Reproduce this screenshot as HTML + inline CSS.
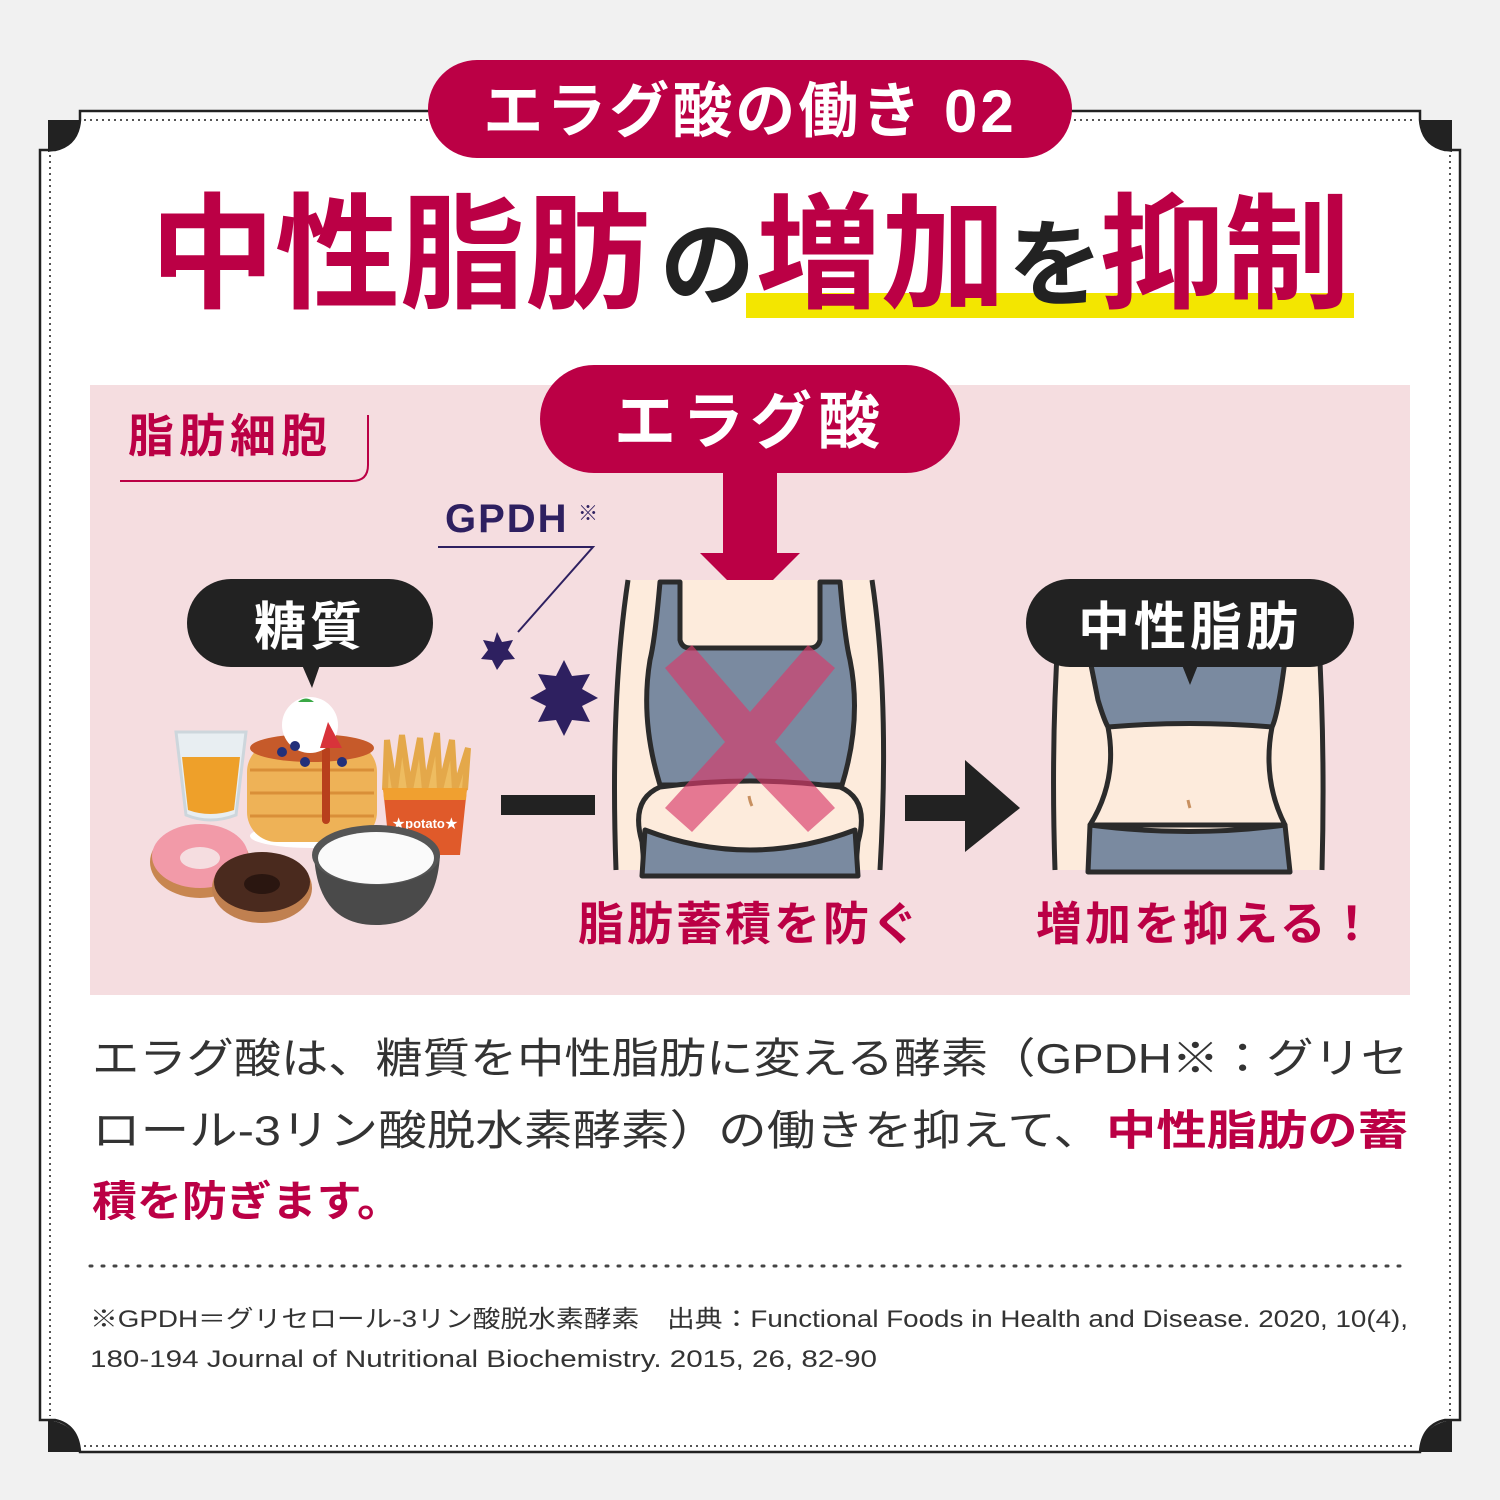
<!DOCTYPE html>
<html><head><meta charset="utf-8"><style>
html,body{margin:0;padding:0;background:#f2f2f2;}
svg{display:block}
text{font-family:"Liberation Sans","Noto Sans CJK JP",sans-serif;}
</style></head><body>
<svg width="1500" height="1500" viewBox="0 0 1500 1500" xmlns="http://www.w3.org/2000/svg">
<rect width="1500" height="1500" fill="#f1f1f1"/>
<!-- frame -->
<path d="M80,111 H1420 V120 Q1422,145 1445,150 H1460 V1420 H1445 Q1422,1425 1420,1452 H80 Q78,1425 55,1420 H40 V150 H55 Q78,145 80,120 Z" fill="#fff" stroke="#222" stroke-width="2.5"/>
<path d="M48,120 H80 Q78,148 48,152 Z" fill="#222"/>
<path d="M1452,120 H1420 Q1422,148 1452,152 Z" fill="#222"/>
<path d="M48,1452 H80 Q78,1424 48,1420 Z" fill="#222"/>
<path d="M1452,1452 H1420 Q1422,1424 1452,1420 Z" fill="#222"/>
<path d="M84,120 H1416 M50,155 V1416 M1450,155 V1416 M84,1446 H1416" stroke="#555" stroke-width="2" stroke-dasharray="2,4" fill="none"/>
<!-- header pill -->
<rect x="428" y="60" width="644" height="98" rx="49" fill="#bb0045"/>
<text x="750" y="132" font-size="60" font-weight="bold" fill="#fff" text-anchor="middle" letter-spacing="3">エラグ酸の働き 02</text>
<!-- title -->
<rect x="746" y="293" width="608" height="25" fill="#f3e600"/>
<text y="298" font-weight="bold" fill="#bb0045">
<tspan x="150" font-size="125" textLength="500" lengthAdjust="spacingAndGlyphs">中性脂肪</tspan><tspan x="660" font-size="95" fill="#222">の</tspan><tspan x="756" font-size="125">増加</tspan><tspan x="1008" font-size="95" fill="#222">を</tspan><tspan x="1100" font-size="125">抑制</tspan>
</text>
<!-- pink panel -->
<rect x="90" y="385" width="1320" height="610" fill="#f5dde0"/>
<text x="128" y="452" font-size="46" font-weight="bold" fill="#bb0045" letter-spacing="5">脂肪細胞</text>
<path d="M120,481 H352 Q368,481 368,465 V415" stroke="#bb0045" stroke-width="2" fill="none"/>
<!-- ellagic pill + arrow -->
<rect x="540" y="365" width="420" height="108" rx="54" fill="#bb0045"/>
<text x="750" y="443" font-size="62" font-weight="bold" fill="#fff" text-anchor="middle" letter-spacing="6">エラグ酸</text>
<rect x="723" y="470" width="54" height="85" fill="#bb0045"/>
<path d="M700,553 H800 L750,603 Z" fill="#bb0045"/>
<!-- GPDH -->
<text x="445" y="532" font-size="40" font-weight="bold" fill="#2e2060" letter-spacing="2">GPDH</text>
<text x="578" y="520" font-size="20" fill="#2e2060">※</text>
<path d="M438,547 H593 L518,632" stroke="#2e2060" stroke-width="2" fill="none"/>
<polygon points="497,632 502,642 513,640 508,650 515,659 504,660 497,670 492,660 481,659 488,650 483,640 494,642" fill="#2e2060"/>
<polygon points="564,660 572,676 590,674 582,689 598,698 582,706 590,722 572,720 564,736 556,720 538,722 546,706 530,698 546,689 538,674 556,676" fill="#2e2060"/>
<!-- sugar bubble -->
<rect x="187" y="579" width="246" height="88" rx="44" fill="#222"/>
<path d="M302,665 L312,688 L320,665 Z" fill="#222"/>
<text x="310" y="645" font-size="52" font-weight="bold" fill="#fff" text-anchor="middle" letter-spacing="4">糖質</text>
<!-- food -->
<path d="M176,732 L186,815 Q210,825 236,815 L246,732 Z" fill="#e8eef2" stroke="#cdd6dc" stroke-width="3"/>
<path d="M182,757 L188,810 Q210,818 234,810 L240,757 Z" fill="#eea02a"/>
<ellipse cx="312" cy="836" rx="62" ry="12" fill="#fff"/>
<rect x="247" y="742" width="130" height="100" rx="30" fill="#eeb257"/>
<path d="M250,770 H374 M250,793 H374 M250,816 H374" stroke="#d98f38" stroke-width="3"/>
<ellipse cx="312" cy="748" rx="62" ry="14" fill="#c65a2a"/>
<path d="M326,750 V820" stroke="#b8401c" stroke-width="8" stroke-linecap="round"/>
<circle cx="310" cy="725" r="28" fill="#fff"/>
<path d="M298,702 Q306,695 314,702 Z" fill="#3aa845"/>
<path d="M320,748 L328,722 L342,748 Z" fill="#d8333a"/>
<circle cx="282" cy="752" r="5" fill="#22307a"/><circle cx="295" cy="746" r="5" fill="#22307a"/><circle cx="342" cy="762" r="5" fill="#22307a"/><circle cx="305" cy="762" r="5" fill="#22307a"/>
<path d="M385,790 L387,740 L395,790 M395,790 L402,735 L410,790 M410,790 L420,738 L425,790 M425,790 L437,733 L440,790 M440,790 L452,740 L455,790 M455,790 L468,748 L465,790" fill="#eebc60" stroke="#e4a84a" stroke-width="6"/>
<path d="M383,788 H467 L460,855 H390 Z" fill="#e05a2a"/>
<path d="M383,788 H467 L466,800 H384 Z" fill="#f0a030"/>
<text x="425" y="828" font-size="13" fill="#fff" text-anchor="middle" font-weight="bold">★potato★</text>
<ellipse cx="200" cy="862" rx="50" ry="36" fill="#c88650"/>
<ellipse cx="200" cy="856" rx="48" ry="32" fill="#f29aa8"/>
<ellipse cx="200" cy="858" rx="20" ry="11" fill="#f5dde0"/>
<ellipse cx="262" cy="888" rx="50" ry="35" fill="#c08050"/>
<ellipse cx="262" cy="882" rx="48" ry="30" fill="#4a2a1e"/>
<ellipse cx="262" cy="884" rx="18" ry="10" fill="#2a1610"/>
<path d="M314,855 Q318,925 376,925 Q436,925 440,855 Z" fill="#4a4a4a"/>
<ellipse cx="376" cy="855" rx="64" ry="30" fill="#555"/>
<ellipse cx="376" cy="858" rx="58" ry="26" fill="#fafafa"/>
<!-- line connector -->
<rect x="501" y="795" width="94" height="20" fill="#222"/>
<!-- body 1 -->
<g stroke="#2b2b2b" stroke-width="5" stroke-linejoin="round">
<path d="M628,580 Q610,700 616,870 L878,870 Q890,700 872,580 Z" fill="#fdebdc" stroke="none"/>
<path d="M628,580 Q610,700 616,870 M872,580 Q890,700 880,870" fill="none"/>
<path d="M660,582 Q655,640 650,660 Q640,720 660,785 L842,785 Q862,720 850,660 Q845,640 840,582 L820,582 V640 Q818,648 810,648 H690 Q682,648 680,640 V582 Z" fill="#7a8aa0"/>
<path d="M660,787 Q630,800 642,842 L645,876 H855 L858,842 Q870,800 840,787 Q750,775 660,787 Z" fill="#fdebdc"/>
<path d="M645,830 Q750,870 855,830 L858,876 H642 Z" fill="#7a8aa0"/>
</g>
<path d="M665,668 L692,645 L750,712 L808,645 L835,668 L775,742 L835,808 L808,832 L750,772 L692,832 L665,808 L725,742 Z" fill="#d83a6a" opacity="0.65"/>
<path d="M749,796 Q750,802 752,806" stroke="#c89060" stroke-width="3" fill="none"/>
<!-- arrow -->
<rect x="905" y="795" width="65" height="26" fill="#222"/>
<path d="M965,760 L1020,808 L965,852 Z" fill="#222"/>
<!-- body 2 -->
<g stroke="#2b2b2b" stroke-width="5" stroke-linejoin="round">
<path d="M1062,585 Q1050,720 1055,870 H1320 Q1326,720 1315,585 Z" fill="#fdebdc" stroke="none"/>
<path d="M1062,585 Q1050,720 1055,870 M1315,585 Q1326,720 1322,870" fill="none"/>
<path d="M1090,660 L1098,700 Q1104,720 1108,727 Q1190,720 1272,727 Q1278,715 1285,660 Z" fill="#7a8aa0"/>
<path d="M1108,727 Q1118,780 1090,825 L1285,825 Q1262,780 1272,727" fill="none"/>
<path d="M1090,825 Q1190,838 1285,825 L1290,872 H1088 Z" fill="#7a8aa0"/>
</g>
<path d="M1188,800 Q1189,805 1190,808" stroke="#c89060" stroke-width="3" fill="none"/>
<rect x="1026" y="579" width="328" height="88" rx="44" fill="#222"/>
<path d="M1182,665 L1190,685 L1198,665 Z" fill="#222"/>
<text x="1190" y="645" font-size="52" font-weight="bold" fill="#fff" text-anchor="middle" letter-spacing="4">中性脂肪</text>
<text x="578" y="940" font-size="46" font-weight="bold" fill="#bb0045" letter-spacing="3">脂肪蓄積を防ぐ</text>
<text x="1036" y="940" font-size="46" font-weight="bold" fill="#bb0045" letter-spacing="3">増加を抑える！</text>
<!-- body text -->
<text font-size="42" fill="#333">
<tspan x="92" y="1073" textLength="1316" lengthAdjust="spacingAndGlyphs">エラグ酸は、糖質を中性脂肪に変える酵素（GPDH※：グリセ</tspan>
<tspan x="92" y="1145" textLength="1010" lengthAdjust="spacingAndGlyphs">ロール-3リン酸脱水素酵素）の働きを抑えて、</tspan><tspan x="1106" y="1145" fill="#bb0045" font-weight="bold" textLength="302" lengthAdjust="spacingAndGlyphs">中性脂肪の蓄</tspan>
<tspan x="92" y="1216" fill="#bb0045" font-weight="bold" textLength="310" lengthAdjust="spacingAndGlyphs">積を防ぎます。</tspan>
</text>
<path d="M90,1266 H1410" stroke="#444" stroke-width="3" stroke-dasharray="2,10" stroke-linecap="round"/>
<text font-size="24" fill="#333">
<tspan x="90" y="1327" textLength="1318" lengthAdjust="spacingAndGlyphs">※GPDH＝グリセロール-3リン酸脱水素酵素　出典：Functional Foods in Health and Disease. 2020, 10(4),</tspan>
<tspan x="90" y="1367" textLength="787" lengthAdjust="spacingAndGlyphs">180-194 Journal of Nutritional Biochemistry. 2015, 26, 82-90</tspan>
</text>
</svg>
</body></html>
